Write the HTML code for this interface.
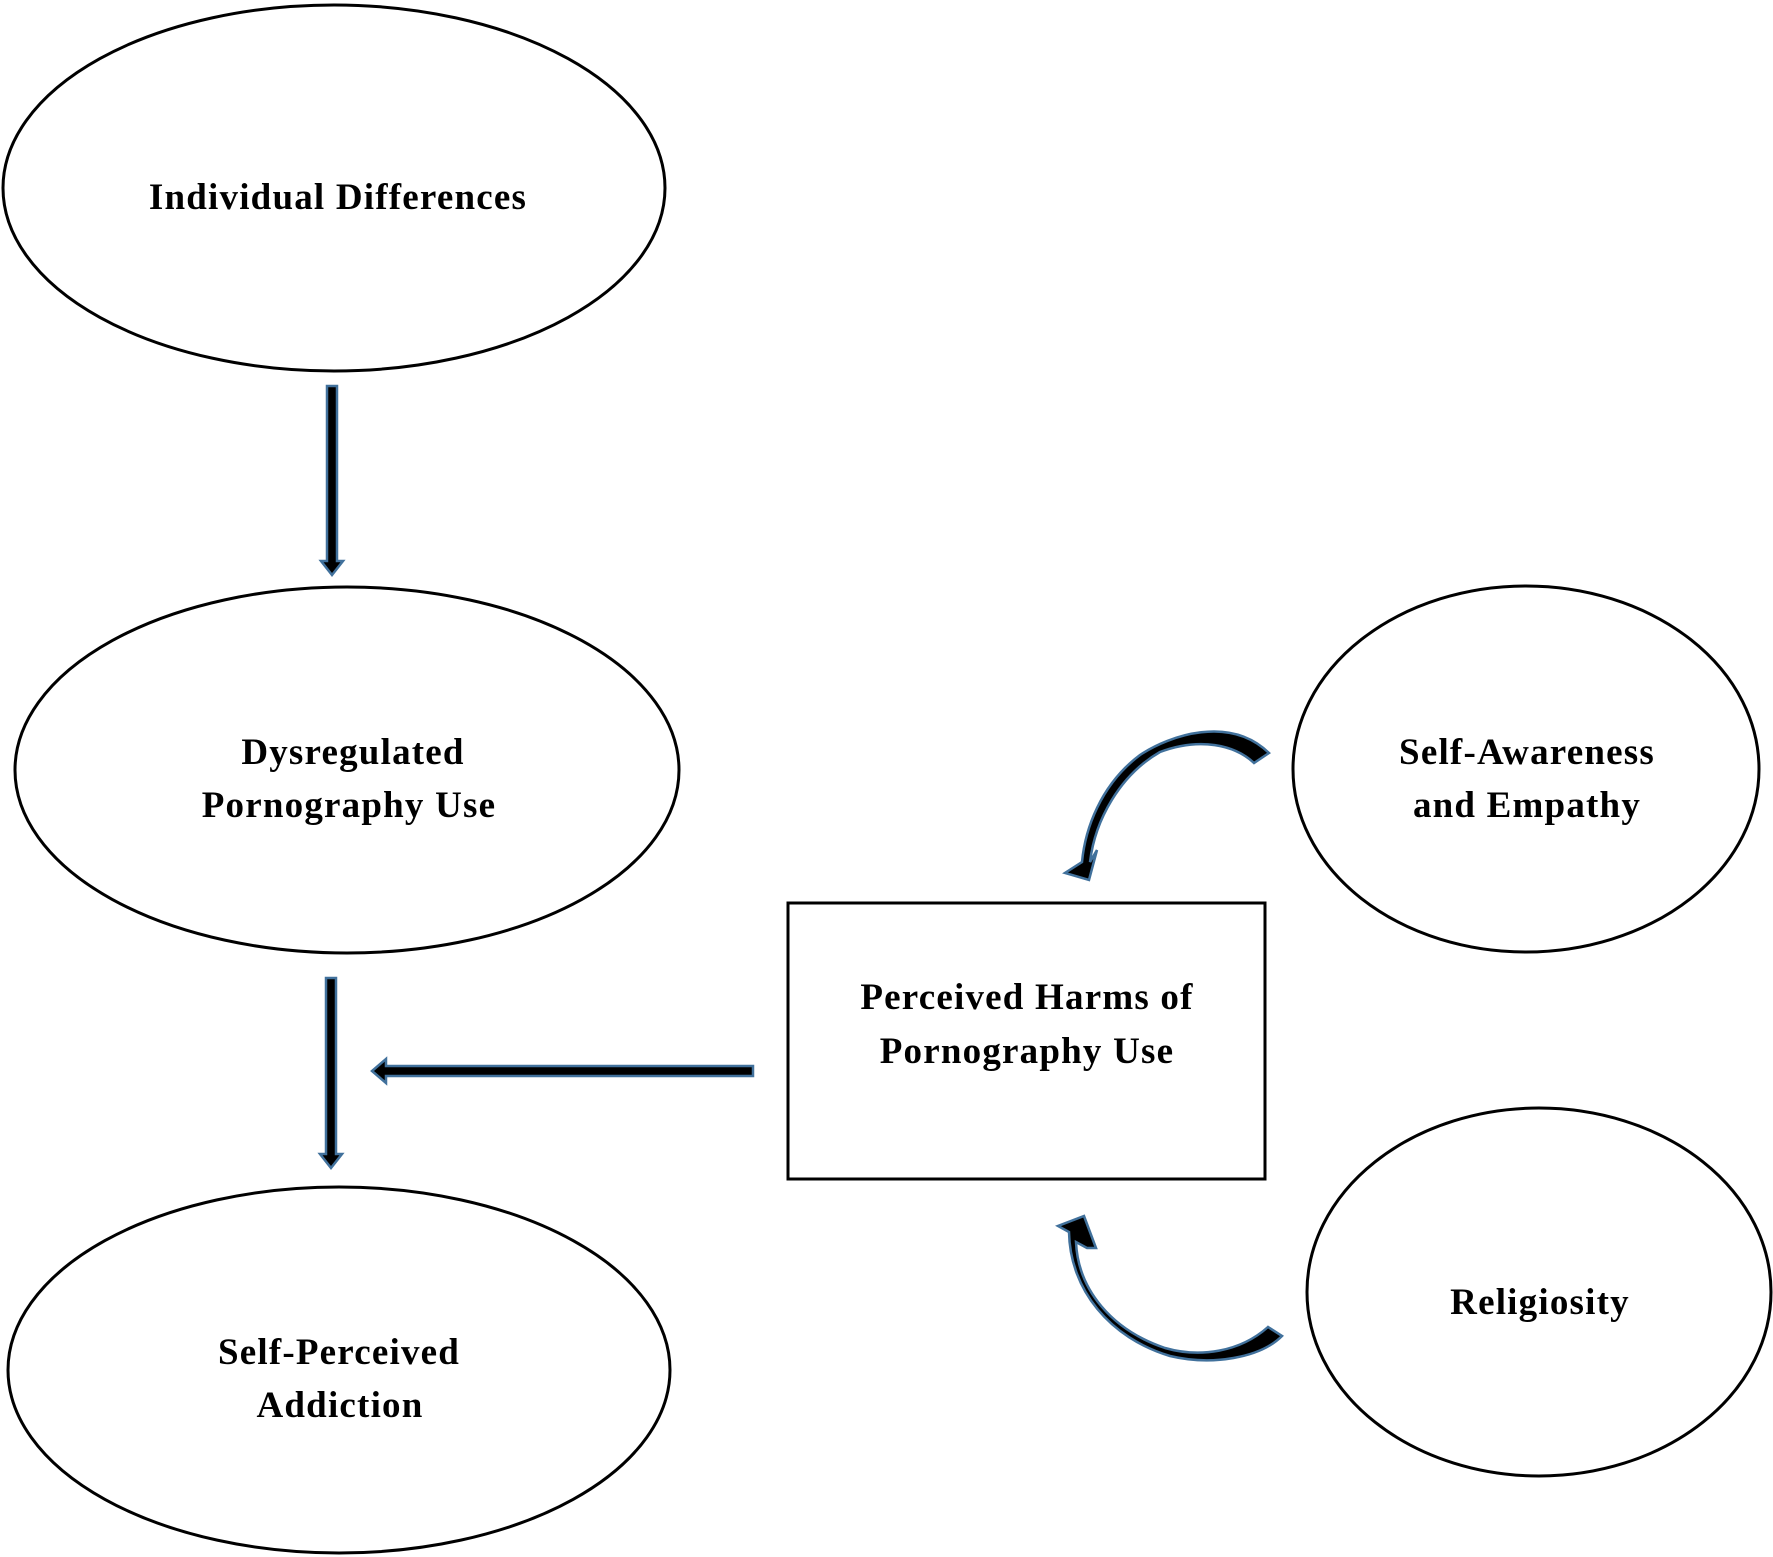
<!DOCTYPE html>
<html><head><style>
html,body{margin:0;padding:0;background:#fff}
svg{display:block}
text{font-family:"Liberation Serif",serif;font-weight:bold;font-size:37px;letter-spacing:1.2px;fill:#000}
</style></head><body>
<svg width="1773" height="1557" viewBox="0 0 1773 1557" xmlns="http://www.w3.org/2000/svg">
<g fill="none" stroke="#000" stroke-width="3">
<ellipse cx="334" cy="188" rx="331" ry="183"/>
<ellipse cx="347" cy="770" rx="332" ry="183"/>
<ellipse cx="339" cy="1370" rx="331" ry="183"/>
<ellipse cx="1526" cy="769" rx="233" ry="183"/>
<ellipse cx="1539" cy="1292" rx="232" ry="184"/>
<rect x="788" y="903" width="477" height="276"/>
</g>
<g fill="#000" stroke="#41719c" stroke-width="2.5" stroke-linejoin="miter">
<path d="M327,386 L337,386 L337,561 L343,561 L332,575 L321,561 L327,561 Z"/>
<path d="M326,978 L336,978 L336,1154 L342,1154 L331,1168 L320,1154 L326,1154 Z"/>
<path d="M753,1066 L753,1076 L386,1076 L386,1083 L372,1071 L386,1059 L386,1066 Z"/>
<path d="M1269,753 C1230,715 1170,735 1140,755 C1100,785 1085,830 1082,862 L1065,873 L1089,880 L1097,850 L1090,862 C1095,820 1120,775 1160,752 C1200,737 1235,745 1254,763 Z"/>
<path d="M1268,1327 C1240,1352 1200,1358 1165,1348 C1112,1330 1078,1290 1076,1242 L1087,1248 L1096,1248 L1084,1216 L1058,1226 L1069,1232 C1070,1290 1110,1338 1170,1356 C1212,1366 1260,1358 1282,1336 Z"/>
</g>
<g text-anchor="middle">
<text x="338" y="209">Individual Differences</text>
<text x="353" y="764">Dysregulated</text>
<text x="349" y="817">Pornography Use</text>
<text x="339" y="1364">Self-Perceived</text>
<text x="340" y="1417">Addiction</text>
<text x="1027" y="1009">Perceived Harms of</text>
<text x="1027" y="1063">Pornography Use</text>
<text x="1527" y="764">Self-Awareness</text>
<text x="1527" y="817">and Empathy</text>
<text x="1540" y="1314">Religiosity</text>
</g>
</svg>
</body></html>
